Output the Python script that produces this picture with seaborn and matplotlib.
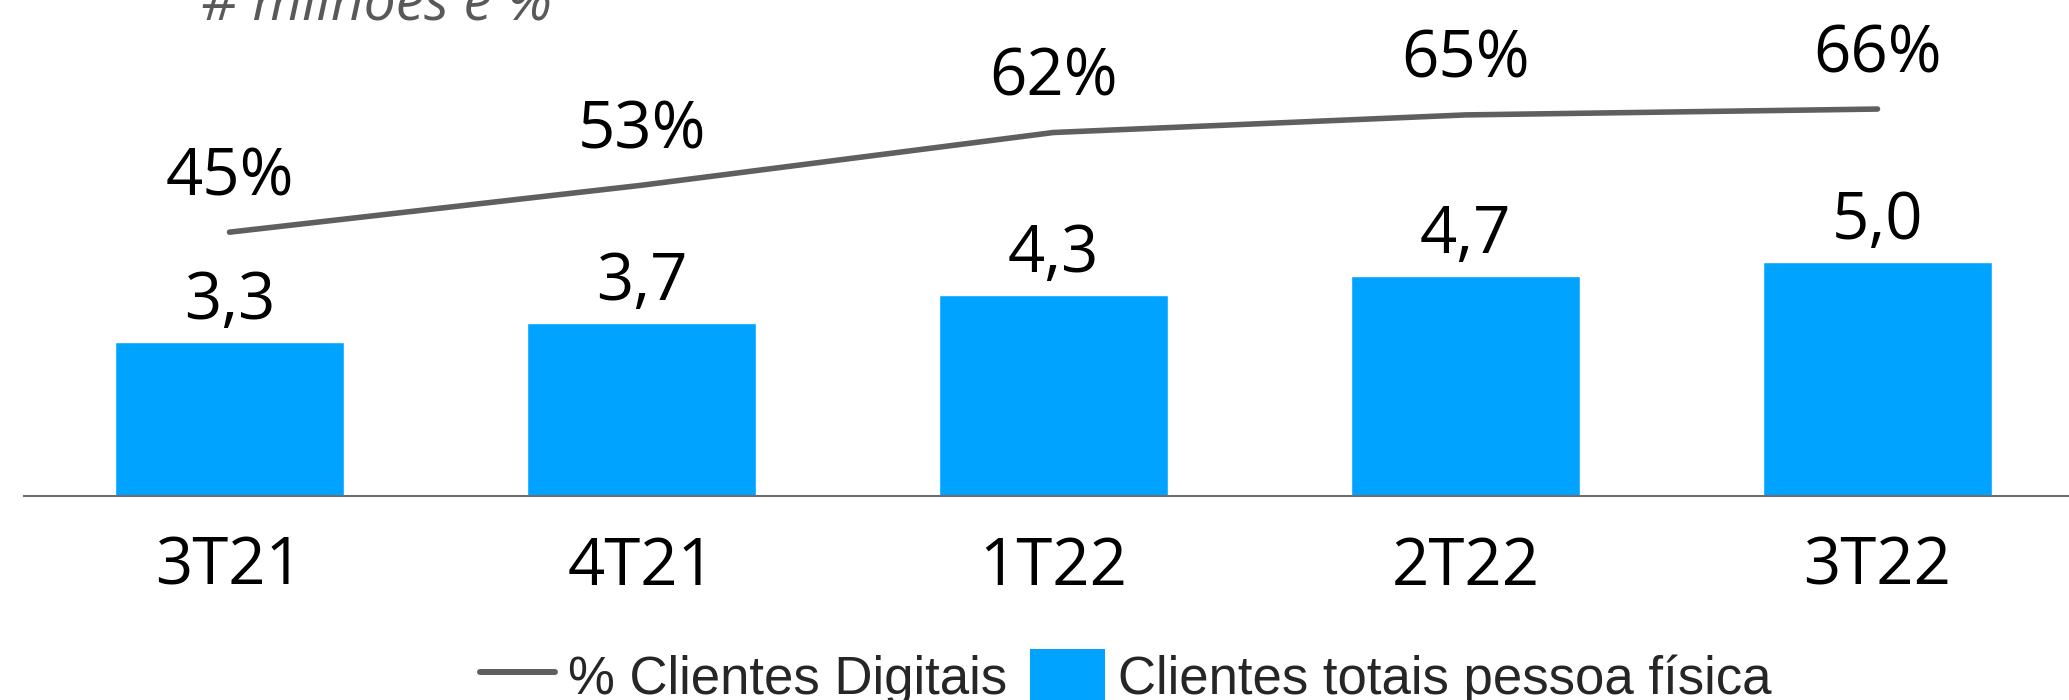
import matplotlib
matplotlib.use("Agg")
import matplotlib.pyplot as plt
import seaborn as sns
import pandas as pd
from matplotlib.lines import Line2D
from matplotlib.patches import Patch

# ---- data ----
periodos = ["3T21", "4T21", "1T22", "2T22", "3T22"]
clientes_totais = [3.3, 3.7, 4.3, 4.7, 5.0]          # milhões
pct_digitais = [45, 53, 62, 65, 66]                   # %
serie_barras = "Clientes totais pessoa física"
serie_linha = "% Clientes Digitais"
subtitulo = "# milhões e %"

BAR_COLOR = "#00A3FF"
LINE_COLOR = "#5f5f5f"
NUM_FONT = "Open Sans"

sns.set_theme(style="white")
plt.rcParams["font.family"] = ["Open Sans", "DejaVu Sans"]

df = pd.DataFrame({"periodo": periodos, "clientes": clientes_totais, "pct": pct_digitais})

W, H = 2069, 700
fig = plt.figure(figsize=(W / 100, H / 100), dpi=100)
ax = fig.add_axes([23.5 / W, 1 - 496 / H, 2060 / W, 496 / H])

sns.barplot(data=df, x="periodo", y="clientes", color=BAR_COLOR, saturation=1,
            width=0.556, ax=ax, order=periodos)
ax.set_ylim(0, 10.6)
ax.set_xlim(-0.5, len(periodos) - 0.5)

ax2 = ax.twinx()
sns.lineplot(data=df, x="periodo", y="pct", color=LINE_COLOR, linewidth=4,
             sort=False, ax=ax2)
for l in ax2.lines:
    l.set_solid_capstyle("round")
ax2.set_ylim(0, 84.6)
ax.set_xlim(-0.5, len(periodos) - 0.5)

# labels
for p, v in zip(ax.patches, clientes_totais):
    ax.annotate(f"{v:.1f}".replace(".", ","), (p.get_x() + p.get_width() / 2, v),
                xytext=(0, 23), textcoords="offset pixels", ha="center", va="baseline",
                fontsize=47, family=NUM_FONT, color="black")
for p, v in zip(ax.patches, pct_digitais):
    ax2.annotate(f"{v:.0f}%", (p.get_x() + p.get_width() / 2, v),
                 xytext=(0, 37), textcoords="offset pixels", ha="center", va="baseline",
                 fontsize=47, family=NUM_FONT, color="black")

# axes styling
for a in (ax, ax2):
    for s in a.spines.values():
        s.set_visible(False)
    a.set_yticks([])
    a.set_ylabel("")
    a.set_xlabel("")
    a.grid(False)
ax.spines["bottom"].set_visible(True)
ax.spines["bottom"].set_color("#6f6f6f")
ax.spines["bottom"].set_linewidth(1.5)
ax.tick_params(axis="x", length=0, pad=28, labelsize=47, labelcolor="black")
for t in ax.get_xticklabels():
    t.set_family(NUM_FONT)
ax.patch.set_alpha(0)
ax2.patch.set_alpha(0)

# subtitle (partially cut at the top)
fig.text(201 / W, 1 - 19 / H, subtitulo, style="italic", family=NUM_FONT, fontsize=41,
         color="#595959", ha="left", va="baseline")

# legend
handles = [Line2D([0], [0], color=LINE_COLOR, lw=4.3, solid_capstyle="round"),
           Patch(facecolor=BAR_COLOR, edgecolor="none")]
fig.legend(handles, [serie_linha, serie_barras], ncol=2, loc="center",
           bbox_to_anchor=(1126 / W, 1 - 677 / H), frameon=False,
           prop={"family": "Liberation Sans", "size": 38},
           handlelength=1.42, handleheight=1.17, handletextpad=0.25, columnspacing=0.43)

fig.savefig("out.png", dpi=100)
